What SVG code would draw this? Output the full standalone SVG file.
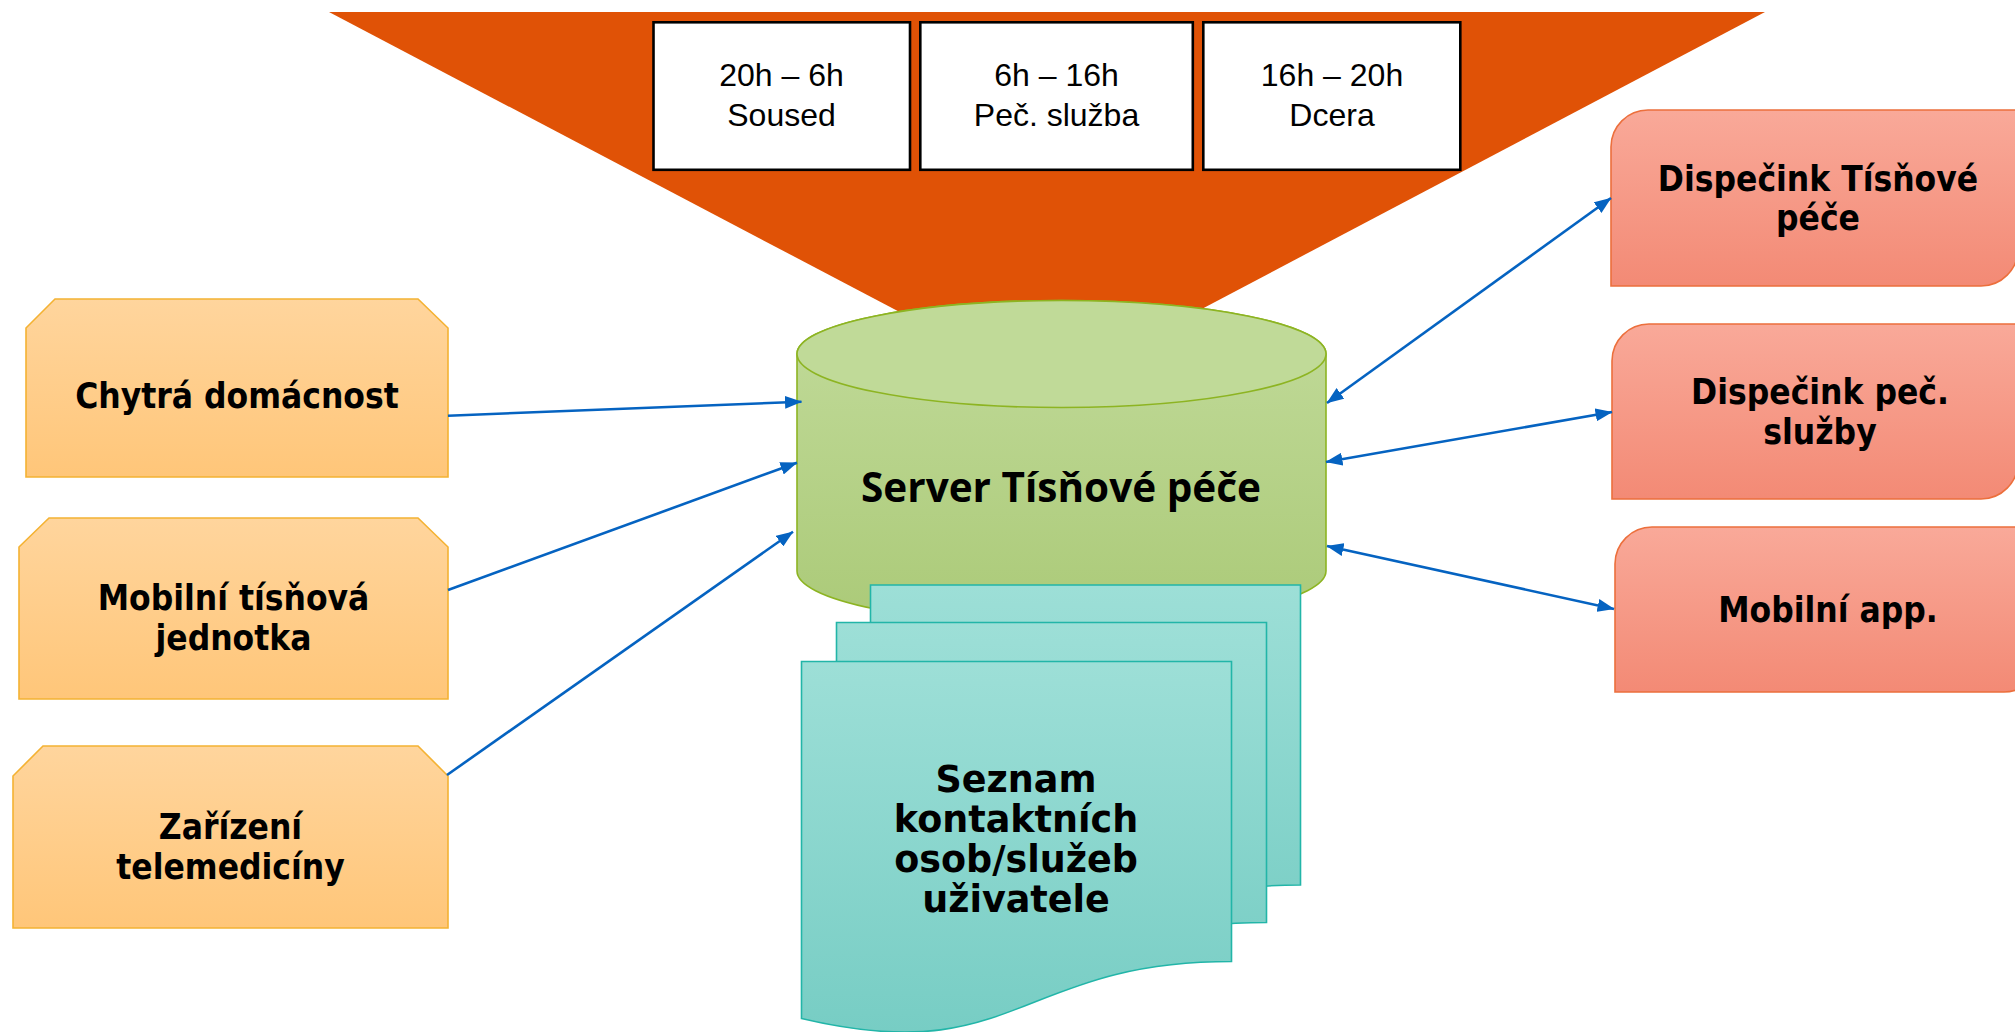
<svg xmlns="http://www.w3.org/2000/svg" width="2015" height="1032" viewBox="0 0 2015 1032">
<defs>
<linearGradient id="gOrange" x1="0" y1="0" x2="0" y2="1"><stop offset="0" stop-color="#FFD59D"/><stop offset="1" stop-color="#FFC679"/></linearGradient>
<linearGradient id="gRed" x1="0" y1="0" x2="0" y2="1"><stop offset="0" stop-color="#F9A999"/><stop offset="1" stop-color="#F38A75"/></linearGradient>
<linearGradient id="gGreen" x1="0" y1="0" x2="0" y2="1"><stop offset="0" stop-color="#C2DB9B"/><stop offset="1" stop-color="#ABCA78"/></linearGradient>
<linearGradient id="gTeal" x1="0" y1="0" x2="0" y2="1"><stop offset="0" stop-color="#9DDFD7"/><stop offset="1" stop-color="#77CDC4"/></linearGradient>
<marker id="arr" markerUnits="userSpaceOnUse" markerWidth="17" markerHeight="13" viewBox="0 0 17 13" refX="16.5" refY="6.5" orient="auto-start-reverse"><path d="M0,0 L17,6.5 L0,13 Z" fill="#0563C1"/></marker>
<path id="doc" d="M0,0 H430 V300 C215,300 215,408 0,357 Z"/>
</defs>
<style>
.tbox{fill:#FFFFFF;stroke:#000000;stroke-width:2.6}
.ttext{font-family:"Liberation Sans",Arial,sans-serif;font-size:32px;fill:#000000;text-anchor:middle}
.lbox{fill:url(#gOrange);stroke:#F4B233;stroke-width:1.6}
.rbox{fill:url(#gRed);stroke:#EC6F3C;stroke-width:1.6}
.ntext{font-family:"DejaVu Sans Condensed","DejaVu Sans",sans-serif;font-weight:bold;font-size:35px;fill:#000000;text-anchor:middle}
.dtext{font-family:"DejaVu Sans",sans-serif;font-weight:bold;font-size:36.5px;fill:#000000;text-anchor:middle}
.stext{font-family:"Open Sans","Noto Sans",sans-serif;font-weight:bold;font-size:40.5px;fill:#000000;text-anchor:middle}
.docs{fill:url(#gTeal);stroke:#22B5A8;stroke-width:1.6}
.conn{stroke:#0563C1;stroke-width:2.6;fill:none}
</style>

<g id="funnel">
<polygon points="329,12 1765,12 1048,390" fill="#E05206"/>
</g>

<g id="shift1">
<rect class="tbox" x="653.5" y="22.3" width="256.5" height="147.5"/>
<text class="ttext" x="781.5" y="86">20h – 6h</text>
<text class="ttext" x="781.5" y="126">Soused</text>
</g>
<g id="shift2">
<rect class="tbox" x="920.3" y="22.3" width="272.5" height="147.5"/>
<text class="ttext" x="1056.5" y="86">6h – 16h</text>
<text class="ttext" x="1056.5" y="126">Peč. služba</text>
</g>
<g id="shift3">
<rect class="tbox" x="1203.3" y="22.3" width="257" height="147.5"/>
<text class="ttext" x="1332" y="86">16h – 20h</text>
<text class="ttext" x="1332" y="126">Dcera</text>
</g>

<g id="server">
<path d="M797,354 A264.5,53.5 0 0 1 1326,354 V571 A264.5,53.5 0 0 1 797,571 Z" fill="url(#gGreen)" stroke="#8DB422" stroke-width="1.6"/>
<ellipse cx="1061.5" cy="354" rx="264.5" ry="53.5" fill="#C0DA98" stroke="#8DB422" stroke-width="1.6"/>
<text class="stext" x="1061" y="502">Server Tísňové péče</text>
</g>

<g id="contacts">
<use href="#doc" class="docs" x="870.5" y="585"/>
<use href="#doc" class="docs" x="836.5" y="622.5"/>
<use href="#doc" class="docs" x="801.5" y="661.5"/>
<text class="dtext" x="1016" y="792">Seznam</text>
<text class="dtext" x="1016" y="832">kontaktních</text>
<text class="dtext" x="1016" y="872">osob/služeb</text>
<text class="dtext" x="1016" y="912">uživatele</text>
</g>

<g id="smart-home">
<path class="lbox" d="M26,328 L55,299 H418 L448,328 V477 H26 Z"/>
<text class="ntext" x="237" y="408">Chytrá domácnost</text>
</g>
<g id="mobile-unit">
<path class="lbox" d="M19,547 L49,518 H418 L448,547 V699 H19 Z"/>
<text class="ntext" x="233.5" y="609.5">Mobilní tísňová</text>
<text class="ntext" x="233.5" y="649.5">jednotka</text>
</g>
<g id="telemedicine">
<path class="lbox" d="M13,776 L43,746 H418 L448,776 V928 H13 Z"/>
<text class="ntext" x="230.5" y="838.5">Zařízení</text>
<text class="ntext" x="230.5" y="878.5">telemedicíny</text>
</g>

<g id="dispatch-emergency">
<path class="rbox" d="M1611,147 A37,37 0 0 1 1648,110 H2018 V249 A37,37 0 0 1 1981,286 H1611 Z"/>
<text class="ntext" x="1818" y="191">Dispečink Tísňové</text>
<text class="ntext" x="1818" y="230">péče</text>
</g>
<g id="dispatch-care">
<path class="rbox" d="M1612,361 A37,37 0 0 1 1649,324 H2018 V462 A37,37 0 0 1 1981,499 H1612 Z"/>
<text class="ntext" x="1820" y="404">Dispečink peč.</text>
<text class="ntext" x="1820" y="444">služby</text>
</g>
<g id="mobile-app">
<path class="rbox" d="M1615,564 A37,37 0 0 1 1652,527 H2041 V655 A37,37 0 0 1 2004,692 H1615 Z"/>
<text class="ntext" x="1828" y="622">Mobilní app.</text>
</g>

<g id="connectors">
<line class="conn" x1="448" y1="415.7" x2="801.5" y2="401.7" marker-end="url(#arr)"/>
<line class="conn" x1="448" y1="590" x2="797" y2="462.7" marker-end="url(#arr)"/>
<line class="conn" x1="447" y1="775" x2="793" y2="531.7" marker-end="url(#arr)"/>
<line class="conn" x1="1327" y1="403" x2="1611" y2="198" marker-start="url(#arr)" marker-end="url(#arr)"/>
<line class="conn" x1="1326" y1="462" x2="1612" y2="412" marker-start="url(#arr)" marker-end="url(#arr)"/>
<line class="conn" x1="1327" y1="546" x2="1614" y2="609" marker-start="url(#arr)" marker-end="url(#arr)"/>
</g>
</svg>
